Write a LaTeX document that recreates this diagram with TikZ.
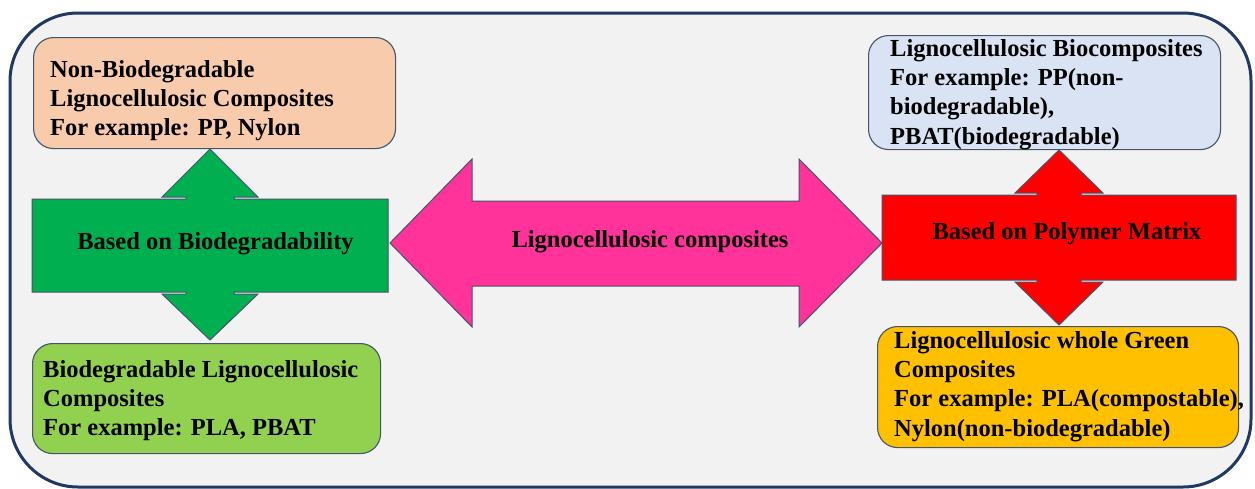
\documentclass[tikz,border=0pt]{standalone}
\usepackage{fontspec}
\setmainfont{Liberation Serif}
\definecolor{frame}{HTML}{1F3864}
\definecolor{bgfill}{HTML}{F2F2F2}
\definecolor{edge}{HTML}{44546A}
\definecolor{peach}{HTML}{F8CBAD}
\definecolor{lgreen}{HTML}{92D050}
\definecolor{dgreen}{HTML}{00B050}
\definecolor{lblue}{HTML}{DAE3F3}
\definecolor{amber}{HTML}{FFC000}
\definecolor{pink}{HTML}{FF3399}
\definecolor{bred}{HTML}{FF0000}
\tikzset{
  catbox/.style={draw=edge, line width=1.1pt, rounded corners=20pt, inner sep=0pt, anchor=north west},
  boxtext/.style={anchor=north west, inner sep=0pt, align=left, font=\fontsize{24.5}{29.3}\selectfont\bfseries},
  arrowshape/.style={draw=edge, line width=1pt, line join=miter},
  lbl/.style={anchor=base, inner sep=0pt, font=\fontsize{24.5}{29}\selectfont\bfseries}
}
\begin{document}
\begin{tikzpicture}[x=1pt,y=-1pt]
\useasboundingbox (0,0) rectangle (1255,488);
\fill[white] (0,0) rectangle (1255,488);
% outer frame
\draw[frame, fill=bgfill, line width=3pt, rounded corners=68pt] (10,13) rectangle (1251,487);

% top-left box
\node[catbox, fill=peach, minimum width=362pt, minimum height=111pt] (nbBox) at (33,37) {};
\node[boxtext] (nbText) at (50,60) {Non-Biodegradable\\Lignocellulosic Composites\\For example: PP, Nylon};

% bottom-left box
\node[catbox, fill=lgreen, minimum width=348pt, minimum height=110pt] (bBox) at (32,343) {};
\node[boxtext] (bText) at (43,360) {Biodegradable Lignocellulosic\\Composites\\For example: PLA, PBAT};

% top-right box
\node[catbox, fill=lblue, minimum width=352pt, minimum height=114pt] (bcBox) at (868,35) {};
\node[boxtext] (bcText) at (890,39) {Lignocellulosic Biocomposites\\For example: PP(non-\\biodegradable),\\PBAT(biodegradable)};

% bottom-right box
\node[catbox, fill=amber, minimum width=361pt, minimum height=121pt] (gBox) at (877,326) {};
\node[boxtext] (gText) at (894,331) {Lignocellulosic whole Green\\Composites\\For example: PLA(compostable),\\Nylon(non-biodegradable)};

% green up-down arrow
\draw[arrowshape, fill=dgreen]
  (32,199) -- (186,199) -- (186,197) -- (162,197) -- (210,149) -- (258,197) -- (234,197) -- (234,199)
  -- (388,199) -- (388,292) -- (234,292) -- (234,294) -- (258,294) -- (210,340) -- (162,294)
  -- (186,294) -- (186,292) -- (32,292) -- cycle;
\node[lbl] (bioLbl) at (215.5,249) {Based on Biodegradability};

% pink double arrow
\draw[arrowshape, fill=pink]
  (390,243) -- (472,159) -- (472,201) -- (799,201) -- (799,159) -- (882,243)
  -- (799,327) -- (799,286) -- (472,286) -- (472,327) -- cycle;
\node[lbl] (lcLbl) at (650,247) {Lignocellulosic composites};

% red up-down arrow
\draw[arrowshape, fill=bred]
  (882,195) -- (1037,195) -- (1037,193) -- (1015,193) -- (1059,150) -- (1103,193) -- (1081,193) -- (1081,195)
  -- (1236,195) -- (1236,280) -- (1081,280) -- (1081,282) -- (1103,282) -- (1059,325) -- (1015,282)
  -- (1037,282) -- (1037,280) -- (882,280) -- cycle;
\node[lbl] (pmLbl) at (1067,239) {Based on Polymer Matrix};
\end{tikzpicture}
\end{document}
